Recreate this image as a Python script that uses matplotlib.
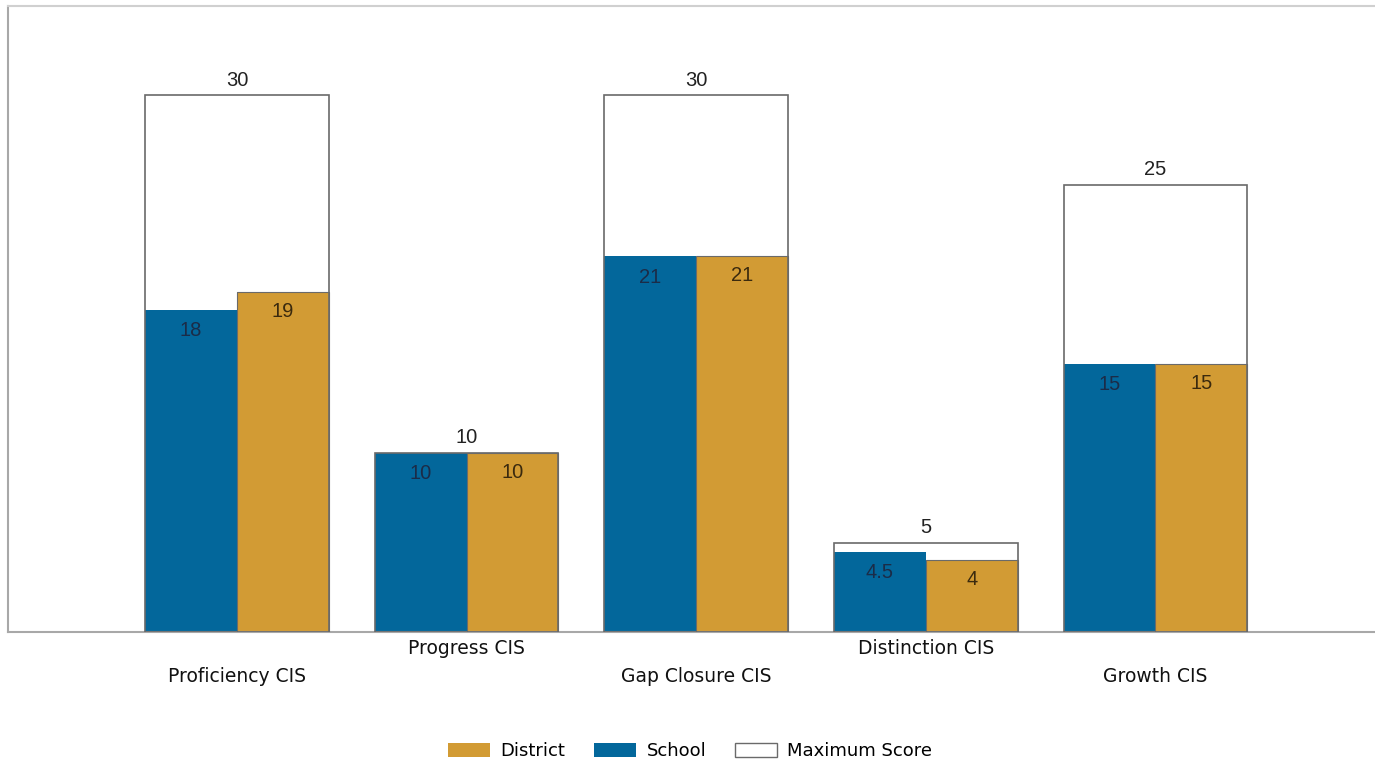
import matplotlib.pyplot as plt
from matplotlib.patches import Patch

categories = ["Proficiency CIS", "Progress CIS", "Gap Closure CIS", "Distinction CIS", "Growth CIS"]
max_score = [30, 10, 30, 5, 25]
school = [18, 10, 21, 4.5, 15]
district = [19, 10, 21, 4, 15]
value_text_school = ["18", "10", "21", "4.5", "15"]
value_text_district = ["19", "10", "21", "4", "15"]

blue = "#03679b"
gold = "#d29b34"
edge = "#6a6a6a"

fig = plt.figure(figsize=(13.75, 7.65), dpi=100)
ax = fig.add_axes([8 / 1375, 1 - 632 / 765, 1 - 8 / 1375, (632 - 6) / 765])

x = list(range(len(categories)))
half = 0.40

# maximum score bar (background), then the two series, then the outline on top
ax.bar(x, max_score, width=2 * half, color="white", edgecolor="none", zorder=1)
ax.bar([i - half / 2 for i in x], school, width=half, color=blue, edgecolor="none", zorder=2)
ax.bar([i + half / 2 for i in x], district, width=half, color=gold, edgecolor="none", zorder=2)
ax.bar(x, max_score, width=2 * half, fill=False, edgecolor=edge, linewidth=1.2, zorder=3)
ax.bar([i + half / 2 for i in x], district, width=half, fill=False, edgecolor=edge, linewidth=0.8, zorder=3)

for i in x:
    ax.annotate(str(max_score[i]), (i, max_score[i]), xytext=(0, 11), textcoords="offset points",
                ha="center", va="center", fontsize=14.5, color="#222222", family="Liberation Sans")
    ax.annotate(value_text_school[i], (i - half / 2, school[i]), xytext=(0, -15), textcoords="offset points",
                ha="center", va="center", fontsize=14.5, color="#1b2c48", family="Liberation Sans", zorder=4)
    ax.annotate(value_text_district[i], (i + half / 2, district[i]), xytext=(0, -14), textcoords="offset points",
                ha="center", va="center", fontsize=14.5, color="#3b2a0e", family="Liberation Sans", zorder=4)
    # staggered category labels
    dy = -32 if i % 2 == 0 else -12
    ax.annotate(categories[i], (i, 0), xytext=(0, dy), textcoords="offset points",
                ha="center", va="center", fontsize=13.5, color="#111111", family="DejaVu Sans")

ax.set_xlim(-0.997, 4.956)
ax.set_ylim(0, 35)
ax.set_xticks([])
ax.set_yticks([])
ax.spines["right"].set_visible(False)
ax.spines["top"].set_color("#d0d0d0")
ax.spines["left"].set_color("#a8a8a8")
ax.spines["bottom"].set_color("#a8a8a8")
for s in ax.spines.values():
    s.set_linewidth(1.5)

handles = [
    Patch(facecolor=gold, edgecolor="none", label="District"),
    Patch(facecolor=blue, edgecolor="none", label="School"),
    Patch(facecolor="white", edgecolor=edge, label="Maximum Score"),
]
fig.legend(handles=handles, loc="center", bbox_to_anchor=(0.502, 1 - 751 / 765), ncol=3,
           frameon=False, fontsize=13, handlelength=2.3, handleheight=0.8,
           columnspacing=1.6, handletextpad=0.6)

fig.savefig("out.png", dpi=100)
